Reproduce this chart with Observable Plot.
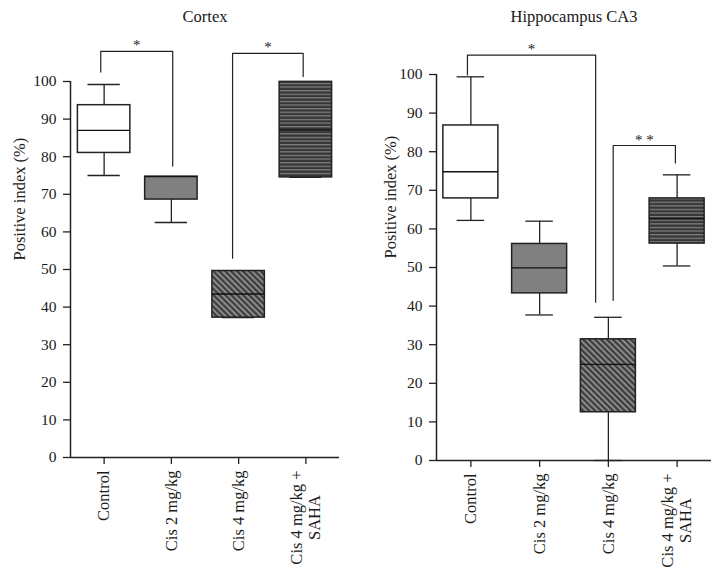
<!DOCTYPE html>
<html lang="en"><head><meta charset="utf-8">
<title>Positive index: Cortex and Hippocampus CA3</title>
<script src="https://cdn.jsdelivr.net/npm/d3@7"></script>
<script src="https://cdn.jsdelivr.net/npm/@observablehq/plot@0.6"></script>
<style>
html,body{margin:0;padding:0;background:#fff}
#chart{display:flex;width:722px;height:574px;overflow:hidden}
#chart svg{display:block;flex:none}
</style>
</head><body>
<svg width="0" height="0" style="position:absolute;left:0;top:0">
<defs>
<pattern id="hatchDiag" width="4.2" height="4.2" patternUnits="userSpaceOnUse" patternTransform="rotate(45)">
<rect width="4.2" height="4.2" fill="#3c3c3c"/><rect width="4.2" height="2.0" fill="#8c8c8c"/>
</pattern>
<pattern id="hatchHoriz" width="4" height="3.6" patternUnits="userSpaceOnUse">
<rect width="4" height="3.6" fill="#363636"/><rect width="4" height="1.3" fill="#7e7e7e"/>
</pattern>
</defs></svg>
<div id="chart"></div>
<script>
const categories = ["Control", "Cis 2 mg/kg", "Cis 4 mg/kg", "Cis 4 mg/kg +\nSAHA"];
const yTicks = [0, 10, 20, 30, 40, 50, 60, 70, 80, 90, 100];
const yLabel = "Positive index (%)";
const boxFills = ["#ffffff", "#808080", "url(#hatchDiag)", "url(#hatchHoriz)"];

// Cortex
const cortexMin    = [75.0, 62.5, 37.2, 74.5];
const cortexQ1     = [81.0, 68.6, 37.2, 74.5];
const cortexMedian = [87.0, 74.7, 43.5, 87.1];
const cortexQ3     = [93.7, 74.7, 49.6, 99.9];
const cortexMax    = [99.2, 74.7, 49.6, 99.9];
const cortexBrackets = [
  {x1: -0.05, x2: 1.02, top: 108.0, end1: 102.5, end2: 77.5, label: "*"},
  {x1: 1.91, x2: 2.96, top: 107.5, end1: 53.0, end2: 101.3, label: "*"}
];

// Hippocampus CA3
const hippoMin    = [62.2, 37.7, 0.0, 50.4];
const hippoQ1     = [67.9, 43.3, 12.5, 56.2];
const hippoMedian = [74.8, 49.9, 24.9, 62.7];
const hippoQ3     = [86.8, 56.1, 31.4, 67.9];
const hippoMax    = [99.4, 62.0, 37.1, 74.0];
const hippoBrackets = [
  {x1: -0.05, x2: 1.815, top: 105.0, end1: 99.9, end2: 41.0, label: "*"},
  {x1: 2.07, x2: 2.975, top: 81.6, end1: 41.5, end2: 77.1, label: "* *"}
];

const xDomain = [-0.5, 3.5];
const ink = "#222";
const font = "'Liberation Serif', 'Times New Roman', serif";
const labelSize = 16.5;
const labelGap = 13;      // tick size + padding
const lineStep = 18;      // distance between the lines of a two-line label

// split category labels into lines; continuation lines are centred on the first line
const measureCtx = document.createElement("canvas").getContext("2d");
measureCtx.font = `${labelSize}px ${font}`;
const labelLines = categories.map((c, i) => ({i, lines: c.split("\n")}));
const singleLabels = labelLines.filter(d => d.lines.length === 1).map(d => ({i: d.i, text: d.lines[0]}));
const firstLines = labelLines.filter(d => d.lines.length > 1).map(d => ({i: d.i, text: d.lines[0]}));
const secondLines = labelLines.filter(d => d.lines.length > 1).map(d => ({
  i: d.i, text: d.lines[1],
  shift: (measureCtx.measureText(d.lines[0]).width - measureCtx.measureText(d.lines[1]).width) / 2
}));
const secondShift = secondLines.length ? secondLines[0].shift : 0;

function boxPanel(o) {
  const rows = categories.map((c, i) => ({
    i, c, min: o.mins[i], q1: o.q1s[i], med: o.meds[i], q3: o.q3s[i], max: o.maxs[i], fill: boxFills[i]
  }));
  const pts = o.brackets.flatMap((b, k) => [
    {k, x: b.x1, y: b.end1}, {k, x: b.x1, y: b.top},
    {k, x: b.x2, y: b.top}, {k, x: b.x2, y: b.end2}
  ]);
  const lab = {x: "i", text: "text", frameAnchor: "bottom", rotate: -90, textAnchor: "end", lineAnchor: "middle", fontSize: labelSize};
  return Plot.plot({
    width: 361, height: 574,
    marginLeft: o.ml, marginRight: o.mr, marginTop: o.mt, marginBottom: o.mb,
    style: {fontFamily: font, fontSize: "16px", color: "#1a1a1a", background: "white", overflow: "visible"},
    x: {domain: xDomain},
    y: {domain: [0, 100]},
    color: {type: "identity"},
    marks: [
      Plot.ruleX(rows, {x: "i", y1: "q3", y2: "max", stroke: ink, strokeWidth: 1.3}),
      Plot.ruleX(rows, {x: "i", y1: "min", y2: "q1", stroke: ink, strokeWidth: 1.3}),
      Plot.ruleY(rows, {y: "max", x1: d => d.i - o.cap, x2: d => d.i + o.cap, stroke: ink, strokeWidth: 1.3}),
      Plot.ruleY(rows, {y: "min", x1: d => d.i - o.cap, x2: d => d.i + o.cap, stroke: ink, strokeWidth: 1.3}),
      Plot.rectY(rows, {x1: d => d.i - o.box, x2: d => d.i + o.box, y1: "q1", y2: "q3", fill: "fill", stroke: ink, strokeWidth: 1.5}),
      Plot.ruleY(rows, {y: "med", x1: d => d.i - o.box, x2: d => d.i + o.box, stroke: "#111", strokeWidth: 1.4}),
      Plot.ruleY([0], {stroke: ink, strokeWidth: 1.5}),
      Plot.ruleX([xDomain[0]], {stroke: ink, strokeWidth: 1.5}),
      Plot.axisY({ticks: yTicks, tickSize: 7, tickPadding: 7, label: null, stroke: ink, strokeWidth: 1.3, fontSize: 15.5}),
      Plot.axisX({ticks: [0, 1, 2, 3], tickFormat: () => "", tickSize: 7, label: null, stroke: ink, strokeWidth: 1.3}),
      Plot.text(singleLabels, {...lab, dy: labelGap}),
      Plot.text(firstLines, {...lab, dy: labelGap, dx: -lineStep / 2}),
      Plot.text(secondLines, {...lab, dy: labelGap + secondShift, dx: lineStep / 2}),
      Plot.text([yLabel], {frameAnchor: "left", rotate: -90, dx: o.labelDx, dy: -9, fontSize: 16.5}),
      Plot.text([o.title], {frameAnchor: "top", lineAnchor: "bottom", dy: o.titleDy, fontSize: 16.5}),
      Plot.line(pts, {x: "x", y: "y", z: "k", stroke: ink, strokeWidth: 1.2}),
      Plot.text(o.brackets, {x: b => (b.x1 + b.x2) / 2, y: "top", text: "label", lineAnchor: "bottom", dy: -1, fontSize: 15})
    ]
  });
}

const chart = document.getElementById("chart");
chart.append(
  boxPanel({
    title: "Cortex", mins: cortexMin, q1s: cortexQ1, meds: cortexMedian, q3s: cortexQ3, maxs: cortexMax,
    brackets: cortexBrackets, ml: 70, mr: 22, mt: 81, mb: 117, cap: 0.24, box: 0.39, labelDx: -51, titleDy: -60
  }),
  boxPanel({
    title: "Hippocampus CA3", mins: hippoMin, q1s: hippoQ1, meds: hippoMedian, q3s: hippoQ3, maxs: hippoMax,
    brackets: hippoBrackets, ml: 75, mr: 11, mt: 74, mb: 114, cap: 0.2, box: 0.4, labelDx: -46, titleDy: -53
  })
);
</script>
</body></html>
